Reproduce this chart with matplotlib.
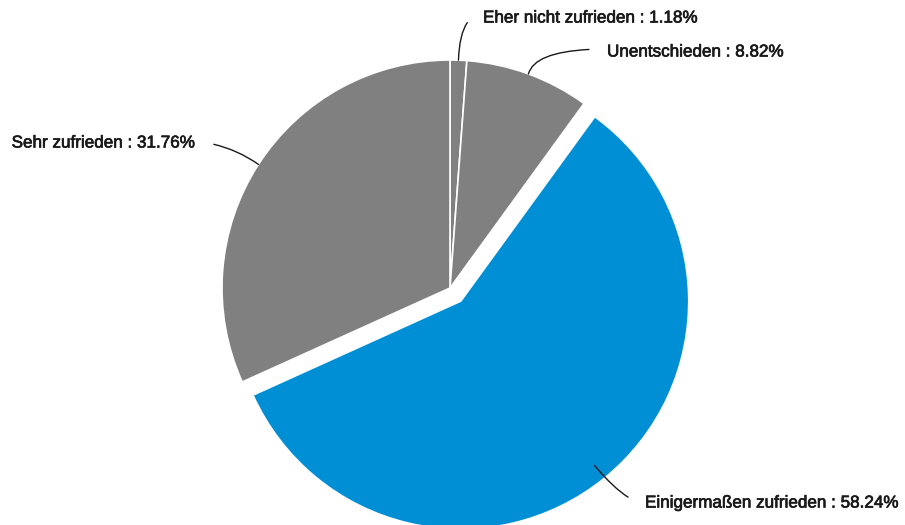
import numpy as np
import matplotlib.pyplot as plt
import matplotlib.patheffects as pe

labels = ["Eher nicht zufrieden", "Unentschieden", "Einigermaßen zufrieden", "Sehr zufrieden"]
shares = [1.18, 8.82, 58.24, 31.76]
colors = ["#808080", "#808080", "#008fd5", "#808080"]
explode = [0, 0, 17, 0]

plt.rcParams["font.family"] = ["Liberation Sans", "DejaVu Sans"]

fig = plt.figure(figsize=(9.05, 5.25), dpi=100)
ax = fig.add_axes([0, 0, 1, 1])

center = (450, 237)
radius = 228
wedges, _ = ax.pie(
    shares,
    colors=colors,
    explode=explode,
    startangle=90,
    counterclock=False,
    center=center,
    radius=radius,
    wedgeprops=dict(edgecolor="white", linewidth=1.2),
    frame=True,
)
ax.set_xlim(0, 905)
ax.set_ylim(0, 525)
ax.set_aspect("equal")
ax.axis("off")

# text position, alignment, connection style, relpos, radial fraction of anchor
label_pos = [
    ((483, 507), "left", "angle3,angleA=0,angleB=88", (0, 0.75), 1.0),
    ((607, 473), "left", "angle3,angleA=0,angleB=75", (0, 0.7), 1.0),
    ((645, 22), "left", "angle3,angleA=0,angleB=-50", (0, 0.5), 0.93),
    ((196, 382), "right", "angle3,angleA=-5,angleB=-35", (1, 0.6), 1.0),
]

for w, lab, val, (pos, ha, conn, rel, rf) in zip(wedges, labels, shares, label_pos):
    ang = np.deg2rad((w.theta1 + w.theta2) / 2)
    cx, cy = w.center
    xy = (cx + rf * w.r * np.cos(ang), cy + rf * w.r * np.sin(ang))
    ax.annotate(
        f"{lab} : {val:.2f}%",
        xy=xy,
        xytext=pos,
        ha=ha,
        va="center",
        fontsize=12.3,
        color="#1a1a1a",
        path_effects=[pe.withStroke(linewidth=0.5, foreground="#1a1a1a")],
        arrowprops=dict(arrowstyle="-", color="#1a1a1a", lw=1.0, relpos=rel,
                        connectionstyle=conn, shrinkA=11, shrinkB=0),
    )

fig.savefig("out.png", dpi=100)
